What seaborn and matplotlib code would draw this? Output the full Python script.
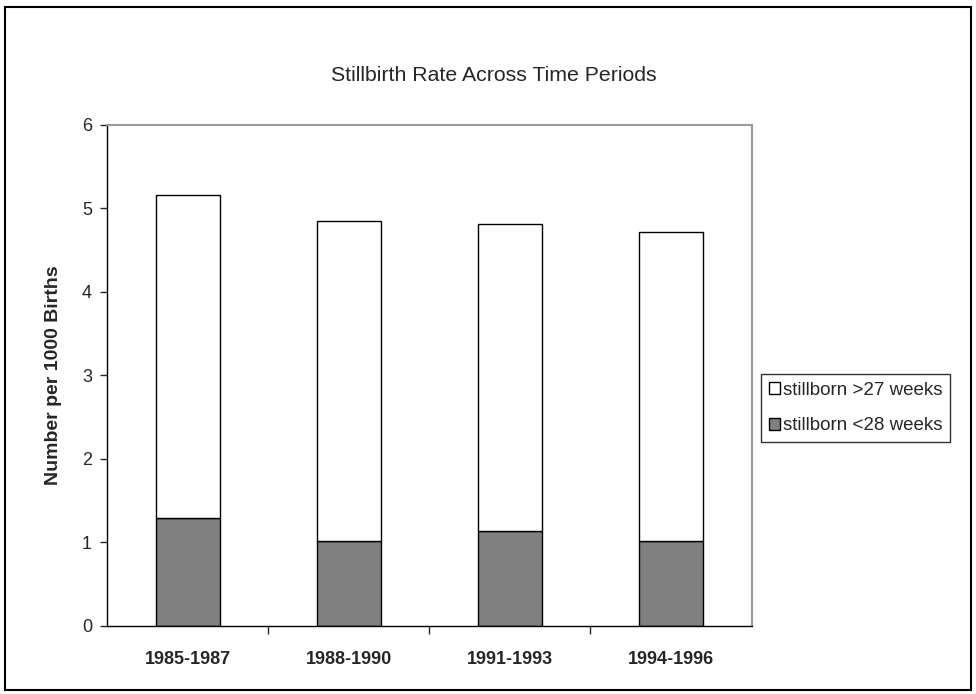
import numpy as np
import pandas as pd
import matplotlib
matplotlib.use("Agg")
import matplotlib.pyplot as plt
import seaborn as sns
from matplotlib.patches import Patch, Rectangle

periods = ["1985-1987", "1988-1990", "1991-1993", "1994-1996"]
under_28 = [1.29, 1.02, 1.14, 1.02]
over_27 = [3.87, 3.83, 3.67, 3.70]

sns.set_style("white")
plt.rcParams['font.family'] = ['Liberation Sans', 'DejaVu Sans']

df = pd.DataFrame({"period": periods, "under": under_28, "over": over_27})

fig = plt.figure(figsize=(9.76, 6.94), dpi=100)
ax = fig.add_axes([0.110, 0.098, 0.660, 0.722])

sns.barplot(data=df, x="period", y="under", color="#808080", edgecolor="black",
            linewidth=1, width=0.4, saturation=1, ax=ax)
sns.barplot(data=df, x="period", y="over", bottom=df["under"].values, color="white",
            edgecolor="black", linewidth=1, width=0.4, saturation=1, ax=ax)

ax.set_xlim(-0.5, 3.5)
ax.set_ylim(0, 6)
ax.set_yticks(range(0, 7))
ax.tick_params(axis="y", labelsize=13, length=5, width=1, direction="out", left=True, pad=6)
ax.set_xticks(range(4))
ax.set_xticklabels(periods, fontweight="bold", fontsize=13)
ax.tick_params(axis="x", which="major", length=0, pad=18)
ax.set_xticks([0.5, 1.5, 2.5], minor=True)
ax.tick_params(axis="x", which="minor", length=6, width=1, direction="out", bottom=True)
ax.set_xlabel("")
ax.set_ylabel("Number per 1000 Births", fontweight="bold", fontsize=14)
ax.yaxis.set_label_coords(-0.071, 0.5)

for side in ["left", "bottom"]:
    ax.spines[side].set_color("black")
    ax.spines[side].set_linewidth(1)
for side in ["top", "right"]:
    ax.spines[side].set_visible(True)
    ax.spines[side].set_color("#999999")
    ax.spines[side].set_linewidth(1.5)

fig.text(0.506, 0.891, "Stillbirth Rate Across Time Periods", ha="center", va="center", fontsize=15.3)

handles = [Patch(facecolor="white", edgecolor="black", label="stillborn >27 weeks"),
           Patch(facecolor="#808080", edgecolor="black", label="stillborn <28 weeks")]
leg = fig.legend(handles=handles, loc="upper left", bbox_to_anchor=(0.780, 0.461),
                 fontsize=13.5, frameon=True, fancybox=False, handlelength=0.6,
                 handleheight=0.6, handletextpad=0.15, borderpad=0.4, labelspacing=1.0,
                 borderaxespad=0)
leg.get_frame().set_edgecolor("black")
leg.get_frame().set_linewidth(1)

fig.add_artist(Rectangle((5 / 976, 1 - 690 / 694), 966 / 976, 683 / 694,
                         transform=fig.transFigure, fill=False, edgecolor="black", linewidth=1.5))

fig.savefig("out.png", dpi=100)
